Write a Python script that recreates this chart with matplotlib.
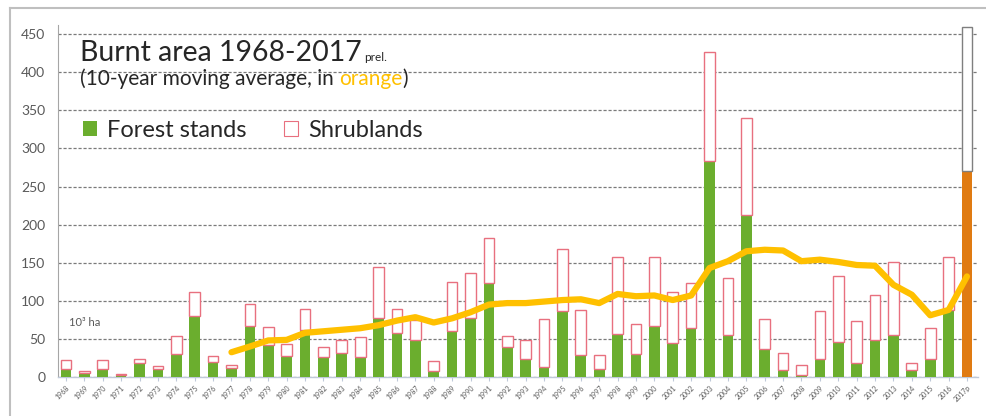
import matplotlib
matplotlib.use("Agg")
import matplotlib.pyplot as plt
import numpy as np
from matplotlib.patches import Patch
from matplotlib.lines import Line2D

plt.rcParams['font.family'] = ['Lato', 'DejaVu Sans']

years = list(range(1968, 2018))
tick_labels = [str(y) for y in years[:-1]] + ["2017p"]

forest = [10.5, 5, 10.5, 3, 19, 10.5, 30, 80, 20, 12,
          67, 42, 28, 62, 26, 31, 26, 78, 58, 49,
          8, 61, 78, 124, 39, 23, 13, 86, 29, 10,
          57, 30, 67, 45, 64, 284, 55, 212, 37, 9,
          2.6, 23, 46, 19, 49, 55, 9, 23, 88, 270]
total = [22, 8, 22, 3.5, 23, 15, 54, 111, 27, 16,
         96, 65, 43, 89, 39, 48, 52, 145, 89, 75,
         21, 125, 136, 182, 54, 49, 76, 168, 88, 29,
         157, 70, 157, 112, 123, 427, 130, 340, 76, 31,
         16, 87, 132, 74, 108, 151, 18, 64, 158, 459]
shrub = [t - f for t, f in zip(total, forest)]

ma_years = list(range(1977, 2018))
ma_values = [32.5, 40, 48, 48.7, 58, 60, 62, 64, 68, 74,
             78.5, 71.5, 77, 85, 95, 97, 97, 99, 101, 102,
             97, 109, 106, 107, 101, 107, 143, 152, 165, 167,
             166, 152, 154, 151, 147, 146, 121, 108, 81, 88, 132]

W, H = 986, 416
fig = plt.figure(figsize=(W / 100, H / 100), dpi=100)
fig.patch.set_facecolor('white')

ymax = 462
left_px, right_px = 57.7, 978
bottom_px, top_px = 377, 377 - ymax * 0.762
ax = fig.add_axes([left_px / W, (H - bottom_px) / H,
                   (right_px - left_px) / W, (bottom_px - top_px) / H])

x = np.arange(len(years))
green = '#6BAE2E'
orange_bar = '#E07B12'
shrub_edge = '#E8707F'
forest_colors = [green] * (len(years) - 1) + [orange_bar]
shrub_edges = [shrub_edge] * (len(years) - 1) + ['#7F7F7F']

bw = 0.58
ax.bar(x, forest, width=bw, color=forest_colors, edgecolor='none', zorder=3)
ax.bar(x, shrub, bottom=forest, width=bw, facecolor='white',
       edgecolor=shrub_edges, linewidth=1.0, zorder=3)

ma_x = [years.index(y) for y in ma_years]
ax.plot(ma_x, ma_values, color='#FFC000', linewidth=4.5, zorder=4,
        solid_joinstyle='round', solid_capstyle='round')

ax.set_xlim(-0.45, len(years) - 0.4)
ax.set_ylim(0, ymax)
ax.set_yticks(np.arange(0, 451, 50))
ax.yaxis.grid(True, linestyle=(0, (2.5, 1.5)), color='#7a7a7a', linewidth=0.9, zorder=0)
ax.set_axisbelow(True)
ax.tick_params(axis='y', length=0, labelsize=10, labelcolor='#595959', pad=9)
ax.set_xticks(x)
ax.set_xticklabels(tick_labels, rotation=45, ha='right', rotation_mode='anchor',
                   fontsize=5, color='#595959')
ax.tick_params(axis='x', length=3, color='#BFC9D9', pad=2)
for s in ['top', 'right']:
    ax.spines[s].set_visible(False)
ax.spines['left'].set_color('#A6A6A6')
ax.spines['bottom'].set_color('#BFC9D9')
ax.spines['bottom'].set_linewidth(1.0)

# frame around figure
fig.add_artist(Line2D([10 / W, 1], [1 - 8 / H, 1 - 8 / H], color='#BFBFBF', linewidth=1.5))
fig.add_artist(Line2D([10 / W, 10 / W], [0, 1 - 8 / H], color='#BFBFBF', linewidth=1.5))

def px(xp, yp):
    return xp / W, 1 - yp / H

renderer = fig.canvas.get_renderer()
t1 = fig.text(*px(80, 61), "Burnt area 1968-2017", fontsize=20.5, color='#262626', va='baseline')
bb = t1.get_window_extent(renderer)
fig.text(bb.x1 / W + 0.002, 1 - 61 / H, "prel.", fontsize=8.5, color='#262626', va='baseline')

sub_fs = 15
s1 = fig.text(*px(80, 85), "(10-year moving average, in ", fontsize=sub_fs, color='#262626', va='baseline')
bb = s1.get_window_extent(renderer)
s2 = fig.text(bb.x1 / W, 1 - 85 / H, "orange", fontsize=sub_fs, color='#FFC000', va='baseline')
bb = s2.get_window_extent(renderer)
fig.text(bb.x1 / W, 1 - 85 / H, ")", fontsize=sub_fs, color='#262626', va='baseline')

handles = [Patch(facecolor=green, edgecolor='none'),
           Patch(facecolor='white', edgecolor=shrub_edge, linewidth=0.8)]
fig.legend(handles, ['Forest stands', 'Shrublands'], ncol=2, frameon=False,
           loc='upper left', bbox_to_anchor=px(62, 99), fontsize=17,
           handlelength=0.6, handleheight=0.6, handletextpad=0.4,
           columnspacing=1.6, labelcolor='#262626')

fig.text(*px(69, 326), "10³ ha", fontsize=8, color='#595959', va='baseline')

fig.savefig('out.png', dpi=100, facecolor='white')
